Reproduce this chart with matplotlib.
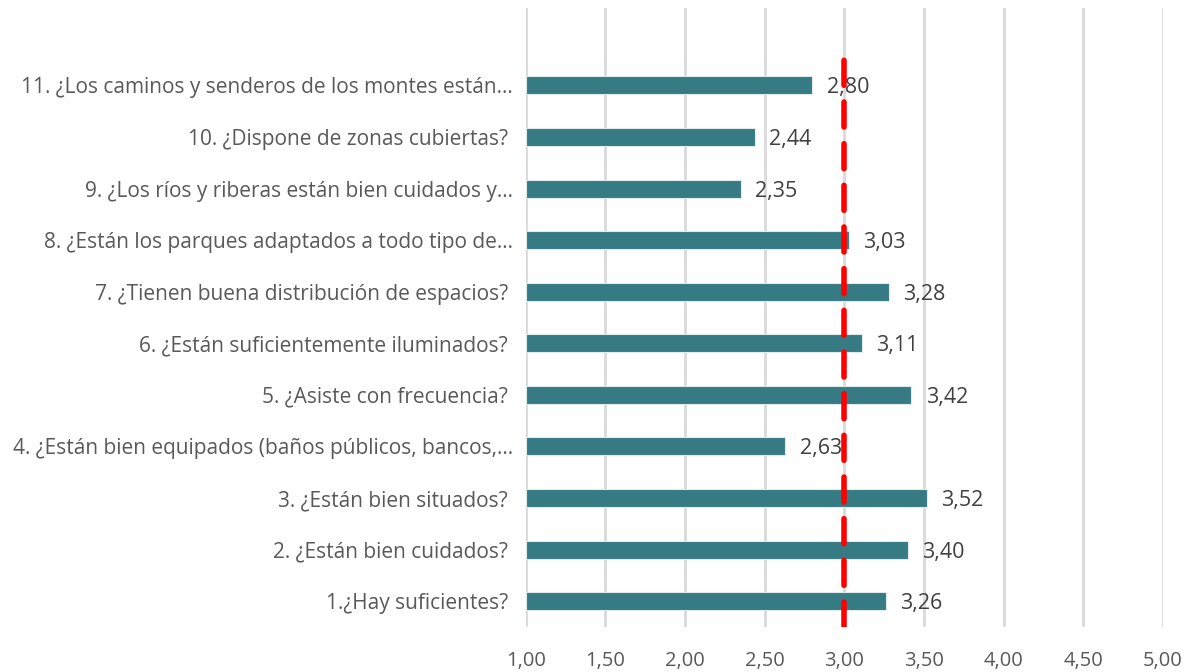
import matplotlib
matplotlib.use("Agg")
import matplotlib.pyplot as plt
import numpy as np

plt.rcParams['font.family'] = ['Open Sans', 'DejaVu Sans']

labels = [
    "1.¿Hay suficientes? ",
    "2. ¿Están bien cuidados? ",
    "3. ¿Están bien situados? ",
    "4. ¿Están bien equipados (baños públicos, bancos,…",
    "5. ¿Asiste con frecuencia? ",
    "6. ¿Están suficientemente iluminados? ",
    "7. ¿Tienen buena distribución de espacios? ",
    "8. ¿Están los parques adaptados a todo tipo de…",
    "9. ¿Los ríos y riberas están bien cuidados y…",
    "10. ¿Dispone de zonas cubiertas? ",
    "11. ¿Los caminos y senderos de los montes están…",
]
values = [3.26, 3.40, 3.52, 2.63, 3.42, 3.11, 3.28, 3.03, 2.35, 2.44, 2.80]
ticks = [1.0, 1.5, 2.0, 2.5, 3.0, 3.5, 4.0, 4.5, 5.0]
ref_x = 3.0

grey = "#595959"
fig = plt.figure(figsize=(11.92, 6.72), dpi=100)
ax = fig.add_axes([0.441, 0.067, 0.5347, 0.921])

y = np.arange(len(labels))
ax.barh(y, np.array(values) - 1.0, left=1.0, height=0.35, color="#367A83",
        edgecolor="#DDEBEC", linewidth=0.8, zorder=2)
for yi, v in zip(y, values):
    ax.text(v + 0.09, yi, f"{v:.2f}".replace(".", ","), va="center_baseline", ha="left",
            fontsize=15.5, color="#404040", zorder=4)

ax.plot([ref_x, ref_x], [-0.5, 10.6], color="#FF0000", linewidth=4,
        linestyle=(0, (4.5, 3)), dash_capstyle="round", zorder=3)

ax.set_xlim(1, 5)
ax.set_ylim(-0.5, 11.5)
ax.set_xticks(ticks)
ax.set_xticklabels([f"{t:.2f}".replace(".", ",") for t in ticks], fontsize=14.5, color=grey)
ax.set_yticks(y)
ax.set_yticklabels(labels, fontsize=15, color=grey)
ax.tick_params(axis="both", length=0)
ax.tick_params(axis="x", pad=17)
ax.tick_params(axis="y", pad=9)
ax.grid(axis="x", color="#D9D9D9", linewidth=2, zorder=0)
ax.set_axisbelow(True)
for s in ax.spines.values():
    s.set_visible(False)

fig.savefig("out.png", dpi=100)
